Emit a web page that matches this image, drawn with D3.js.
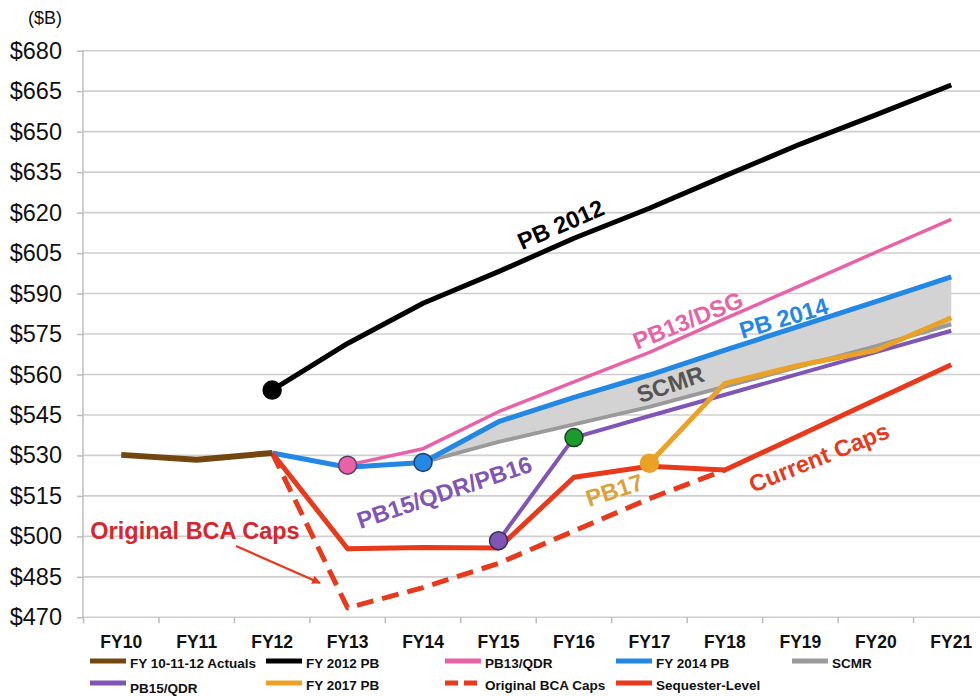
<!DOCTYPE html>
<meta charset="utf-8">
<style>
  body { margin: 0; background: #fff; }
  svg { display: block; font-family: "Liberation Sans", Arial, sans-serif; }
</style>
<svg id="chart" width="980" height="696"></svg>
<script src="https://cdn.jsdelivr.net/npm/d3@7"></script>
<script>

// categories and ticks
var years = ["FY10","FY11","FY12","FY13","FY14","FY15","FY16","FY17","FY18","FY19","FY20","FY21"];
var yTicks = [470,485,500,515,530,545,560,575,590,605,620,635,650,665,680];

// series ($B), null = no value that year
var actuals   = [530.2, 528.4, 530.9, null, null, null, null, null, null, null, null, null];
var pb2012    = [null, null, 554.2, 571.5, 586.4, 598.1, 610.5, 621.6, 633.6, 645.4, 656.2, 667.3];
var pb13      = [null, null, null, 526.4, 532.5, 546.2, 557.3, 568.2, 580.7, 592.9, 605.3, 617.5];
var pb2014    = [null, null, 530.9, 525.6, 527.4, 542.5, 551.5, 559.8, 569.0, 578.0, 587.0, 596.2];
var scmr      = [null, null, null, null, 527.4, 535.0, 541.5, 548.0, 555.5, 563.0, 570.5, 578.6];
var pb15      = [null, null, null, null, null, 498.4, 536.6, 544.6, 552.5, 560.4, 568.3, 576.2];
var pb17      = [null, null, null, null, null, null, null, 527.1, 556.7, 563.5, 569.0, 581.0];
var bcaCaps   = [null, null, 530.9, 473.5, 481.0, 490.0, 502.0, 514.0, 524.6, null, null, null];
var sequester = [null, null, 530.9, 495.4, 495.9, 495.7, 521.9, 526.0, 524.6, 537.6, 550.6, 563.6];

var svg = d3.select("#chart"),
    W = +svg.attr("width");

var x = d3.scaleBand().domain(years).range([83.5, 989]);
var y = d3.scaleLinear().domain([470, 680]).range([617.3, 50.7]);
var cx = function(i) { return x(years[i]) + x.bandwidth() / 2; };

// grid
svg.append("g").selectAll("line").data(yTicks).enter().append("line")
    .attr("x1", 83).attr("x2", W)
    .attr("y1", function(d) { return y(d); }).attr("y2", function(d) { return y(d); })
    .attr("stroke", "#cfcfcf").attr("stroke-width", 1.6);

// y axis
var yAxis = svg.append("g")
    .attr("transform", "translate(83,0)")
    .call(d3.axisLeft(y).tickValues(yTicks).tickSize(6).tickPadding(15)
      .tickFormat(function(d) { return "$" + d; }));
yAxis.select(".domain").attr("stroke", "#bdbdbd").attr("stroke-width", 1.5).attr("d", "M0,50V618");
yAxis.selectAll(".tick line").attr("stroke", "#bdbdbd").attr("stroke-width", 1.5);
yAxis.selectAll("text").attr("fill", "#111").style("font-size", "23.5px")
    .style("font-family", "'Liberation Sans', Arial, sans-serif");

svg.append("text").attr("x", 62).attr("y", 24).attr("text-anchor", "end")
    .style("font-size", "18px").attr("fill", "#111").text("($B)");

// x axis
var xAxis = svg.append("g")
    .attr("transform", "translate(0," + y(470) + ")")
    .call(d3.axisBottom(x).tickSize(0).tickPadding(18));
xAxis.select(".domain").remove();
xAxis.selectAll("text").attr("fill", "#111").style("font-size", "17.5px").style("font-weight", "bold");
svg.append("g").selectAll("line").data(years).enter().append("line")
    .attr("x1", function(d) { return x(d); }).attr("x2", function(d) { return x(d); })
    .attr("y1", y(470)).attr("y2", y(470) + 6)
    .attr("stroke", "#bdbdbd").attr("stroke-width", 1.5);

function pts(arr) {
  return arr.map(function(v, i) { return [i, v]; }).filter(function(p) { return p[1] != null; });
}
var line = d3.line().x(function(p) { return cx(p[0]); }).y(function(p) { return y(p[1]); });

// SCMR shaded band between PB 2014 and SCMR
var band = years.map(function(d, i) { return [i, pb2014[i], scmr[i]]; })
    .filter(function(p) { return p[2] != null; });
svg.append("path")
    .attr("d", d3.area().x(function(p) { return cx(p[0]); })
      .y0(function(p) { return y(p[2]); }).y1(function(p) { return y(p[1]); })(band))
    .attr("fill", "#d3d3d3");

var series = [
  {v: scmr,      c: "#9a9a9a", w: 4},
  {v: bcaCaps,   c: "#e8391d", w: 5, dash: "17,9"},
  {v: pb13,      c: "#ea62a6", w: 3.5},
  {v: pb2014,    c: "#2387e4", w: 5},
  {v: pb15,      c: "#7f55b5", w: 4},
  {v: sequester, c: "#e8391d", w: 5},
  {v: pb17,      c: "#e9a126", w: 5},
  {v: actuals,   c: "#74460f", w: 6},
  {v: pb2012,    c: "#000000", w: 5}
];
series.forEach(function(s) {
  svg.append("path")
      .attr("d", line(pts(s.v)))
      .attr("fill", "none").attr("stroke", s.c).attr("stroke-width", s.w)
      .attr("stroke-linejoin", "round")
      .attr("stroke-dasharray", s.dash || null);
});

// markers where each budget starts
var markers = [
  {i: 2, v: pb2012, c: "#000000", s: "#000"},
  {i: 3, v: pb13,   c: "#ea62a6", s: "#5b3a6e"},
  {i: 4, v: pb2014, c: "#2387e4", s: "#1d3f6e"},
  {i: 5, v: pb15,   c: "#7f55b5", s: "#3b2a55"},
  {i: 6, v: pb15,   c: "#1d9a2e", s: "#204020"},
  {i: 7, v: pb17,   c: "#e9a126", s: "#e9a126"}
];
svg.append("g").selectAll("circle").data(markers).enter().append("circle")
    .attr("cx", function(d) { return cx(d.i); })
    .attr("cy", function(d) { return y(d.v[d.i]); })
    .attr("r", 9)
    .attr("fill", function(d) { return d.c; })
    .attr("stroke", function(d) { return d.s; }).attr("stroke-width", 1.5);

// in-chart labels
var labels = [
  {t: "PB 2012",        x: 564, y: 232, a: -23.5, c: "#000000"},
  {t: "PB13/DSG",       x: 691, y: 328, a: -22,   c: "#ea62a6"},
  {t: "PB 2014",        x: 786, y: 326, a: -16.5, c: "#2387e4"},
  {t: "SCMR",           x: 673, y: 392, a: -19,   c: "#555555"},
  {t: "PB15/QDR/PB16",  x: 447, y: 500, a: -18.5, c: "#7f55b5"},
  {t: "PB17",           x: 617, y: 498, a: -18,   c: "#dba23a"},
  {t: "Current Caps",   x: 822, y: 465, a: -22,   c: "#e8391d"},
  {t: "Original BCA Caps", x: 195, y: 539, a: 0,  c: "#d7262d"}
];
svg.append("g").selectAll("text").data(labels).enter().append("text")
    .attr("transform", function(d) { return "translate(" + d.x + "," + d.y + ") rotate(" + d.a + ")"; })
    .attr("text-anchor", "middle")
    .attr("fill", function(d) { return d.c; })
    .style("font-size", "23.5px").style("font-weight", "bold")
    .text(function(d) { return d.t; });

// arrow to the original caps line
svg.append("defs").append("marker")
    .attr("id", "arr").attr("viewBox", "0 0 10 10").attr("refX", 9).attr("refY", 5)
    .attr("markerWidth", 4).attr("markerHeight", 4).attr("orient", "auto")
  .append("path").attr("d", "M0,0L10,5L0,10z").attr("fill", "#e8391d");
svg.append("line")
    .attr("x1", 236).attr("y1", 546).attr("x2", 320).attr("y2", 583)
    .attr("stroke", "#e8391d").attr("stroke-width", 2.2).attr("marker-end", "url(#arr)");

// legend
var legNames = ["FY 10-11-12 Actuals","FY 2012 PB","PB13/QDR","FY 2014 PB","SCMR",
                "PB15/QDR","FY 2017 PB","Original BCA Caps","Sequester-Level"];
var legColors = ["#74460f","#000000","#ea62a6","#2387e4","#9a9a9a",
                 "#7f55b5","#e9a126","#e8391d","#e8391d"];
var legCols = [90, 266, 445, 616, 792];
var legRows = [661, 683];
var leg = svg.append("g").selectAll("g").data(legNames).enter().append("g")
    .attr("transform", function(d, i) {
      return "translate(" + legCols[i % 5] + "," + legRows[Math.floor(i / 5)] + ")";
    });
leg.append("line").attr("x1", 0).attr("x2", 36)
    .attr("stroke", function(d, i) { return legColors[i]; })
    .attr("stroke-width", 5)
    .attr("stroke-dasharray", function(d) { return d === "Original BCA Caps" ? "13,6" : null; });
leg.append("text").attr("x", 40).attr("y", function(d) { return d === "PB15/QDR" ? 10 : 7; })
    .attr("fill", "#111")
    .style("font-size", "13.5px").style("font-weight", "bold")
    .text(function(d) { return d; });

</script>
